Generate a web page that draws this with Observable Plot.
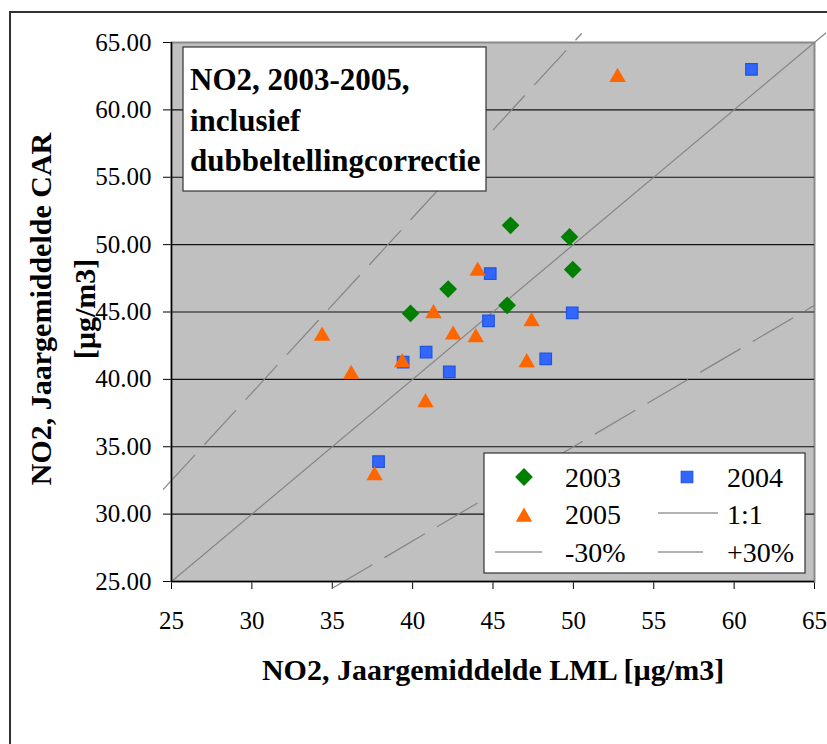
<!DOCTYPE html>
<html><head><meta charset="utf-8">
<script src="https://cdn.jsdelivr.net/npm/d3@7"></script>
<script src="https://cdn.jsdelivr.net/npm/@observablehq/plot@0.6"></script>
<style>body{margin:0;background:#fff;overflow:hidden}</style>
</head><body><div id="chart"></div>
<script>
// ---- data ----
const lml2003 = [46.09, 49.76, 49.96, 42.21, 45.88, 39.87];
const car2003 = [51.43, 50.57, 48.15, 46.70, 45.50, 44.89];

const lml2004 = [61.08, 44.83, 44.72, 49.93, 40.84, 39.41, 42.28, 48.28, 37.88];
const car2004 = [63.00, 47.85, 44.34, 44.93, 42.02, 41.28, 40.56, 41.52, 33.90];

const lml2005 = [52.75, 44.05, 41.30, 47.40, 42.52, 43.93, 34.37, 39.35, 36.18, 47.10, 40.80, 37.63];
const car2005 = [62.60, 48.22, 45.06, 44.47, 43.48, 43.28, 43.40, 41.43, 40.56, 41.43, 38.46, 33.05];

const refNames   = ["1:1", "-30%", "+30%"];
const refFactors = [1, 0.7, 1.3];
const refXStart  = [25, 35, 24.5];
const refXEnd    = [65.7, 65, 50.5];

const xTicks = [25, 30, 35, 40, 45, 50, 55, 60, 65];
const yTicks = [25, 30, 35, 40, 45, 50, 55, 60, 65];

const titleLines = ["NO2, 2003-2005,", "inclusief", "dubbeltellingcorrectie"];
const xTitle = "NO2, Jaargemiddelde LML [µg/m3]";
const yTitleLines = ["NO2, Jaargemiddelde CAR", "[µg/m3]"];

// ---- build tables ----
const pts = (xs, ys, year) => xs.map((x, i) => ({x, y: ys[i], year}));
const d03 = pts(lml2003, car2003, "2003");
const d04 = pts(lml2004, car2004, "2004");
const d05 = pts(lml2005, car2005, "2005");
const refData = refNames.flatMap((n, i) => [
  {name: n, x: refXStart[i], y: refXStart[i] * refFactors[i]},
  {name: n, x: refXEnd[i], y: refXEnd[i] * refFactors[i]}
]);

const GREEN = "#008000", BLUE = "#3366ff", BLUE_EDGE = "#1f55dd", ORANGE = "#ff6600", LINEGRAY = "#858585";
const SERIF = "Times New Roman, Liberation Serif, Tinos, serif";

const chart = Plot.plot({
  width: 827, height: 744,
  marginLeft: 171, marginRight: 13, marginTop: 42, marginBottom: 163,
  style: {fontFamily: SERIF, fontSize: "25px", color: "black", background: "white", overflow: "visible"},
  x: {domain: [25, 65], ticks: xTicks, tickSize: 8, tickPadding: 22, label: null},
  y: {domain: [25, 65], ticks: yTicks, tickSize: 8, tickPadding: 12, tickFormat: d => d.toFixed(2), label: null},
  marks: [
    Plot.frame({fill: "#c0c0c0", stroke: "#8a8a8a", strokeWidth: 2}),
    Plot.ruleY(yTicks.slice(1, -1), {stroke: "#111", strokeWidth: 1.2}),
    Plot.line(refData.filter(d => d.name === "1:1"), {x: "x", y: "y", stroke: LINEGRAY, strokeWidth: 1.2}),
    Plot.line(refData.filter(d => d.name !== "1:1"), {x: "x", y: "y", z: "name", stroke: LINEGRAY, strokeWidth: 1.2, strokeDasharray: "46,15"}),
    Plot.ruleX([25], {stroke: "#000", strokeWidth: 1.5}),
    Plot.ruleY([25], {stroke: "#000", strokeWidth: 1.5}),
    Plot.dot(d03, {x: "x", y: "y", symbol: "diamond2", r: 8, fill: GREEN, stroke: "none"}),
    Plot.dot(d04, {x: "x", y: "y", symbol: "square", r: 6.5, fill: BLUE, stroke: BLUE_EDGE, strokeWidth: 1.2}),
    Plot.dot(d05, {x: "x", y: "y", symbol: "triangle", r: 6.1, dy: 2.4, fill: ORANGE, stroke: "none"})
  ]
});
document.getElementById("chart").appendChild(chart);
d3.select(chart).selectAll("text").style("font-family", SERIF);

// ---- annotations ----
const svg = d3.select(chart);
const txt = (g, t, opts) => g.append("text").text(t)
  .attr("text-anchor", opts.anchor || "start")
  .attr("fill", "black")
  .style("font-family", SERIF)
  .style("font-weight", opts.bold ? "bold" : "normal")
  .style("font-size", opts.size + "px");

svg.append("path").attr("d", "M10,744V12H827").attr("fill", "none").attr("stroke", "#333").attr("stroke-width", 2);

// title box
const tb = svg.append("g");
tb.append("rect").attr("x", 183).attr("y", 47).attr("width", 303).attr("height", 144)
  .attr("fill", "white").attr("stroke", "#333").attr("stroke-width", 1.2);
titleLines.forEach((t, i) => {
  txt(tb, t, {bold: true, size: 31}).attr("x", 190).attr("y", 90 + i * 40.5);
});

// axis titles
txt(svg, xTitle, {bold: true, size: 30, anchor: "middle"}).attr("x", 493).attr("y", 680);
[51, 95].forEach((bx, i) => {
  txt(svg, yTitleLines[i], {bold: true, size: 30, anchor: "middle"})
    .attr("transform", `translate(${bx},309) rotate(-90)`);
});

// legend
const lg = svg.append("g");
lg.append("rect").attr("x", 484).attr("y", 453).attr("width", 321).attr("height", 120)
  .attr("fill", "white").attr("stroke", "#333").attr("stroke-width", 1.2);
const sym = (type, r) => d3.symbol(type, Math.PI * r * r)();
lg.append("path").attr("d", sym(d3.symbolDiamond2, 8)).attr("transform", "translate(524,477)").attr("fill", GREEN);
lg.append("path").attr("d", sym(d3.symbolSquare, 6.5)).attr("transform", "translate(687,477)").attr("fill", BLUE).attr("stroke", BLUE_EDGE).attr("stroke-width", 1.2);
lg.append("path").attr("d", sym(d3.symbolTriangle, 6.1)).attr("transform", "translate(524,517)").attr("fill", ORANGE);
lg.append("line").attr("x1", 658).attr("x2", 718).attr("y1", 513).attr("y2", 513).attr("stroke", "#999").attr("stroke-width", 1.3);
lg.append("line").attr("x1", 495).attr("x2", 542).attr("y1", 552).attr("y2", 552).attr("stroke", "#999").attr("stroke-width", 1.3);
lg.append("line").attr("x1", 658).attr("x2", 703).attr("y1", 552).attr("y2", 552).attr("stroke", "#999").attr("stroke-width", 1.3);
const legTexts = [["2003", 565, 487], ["2004", 727, 487], ["2005", 565, 524], [refNames[0], 727, 524], [refNames[1], 565, 562], [refNames[2], 727, 562]];
legTexts.forEach(([t, x, y]) => {
  txt(lg, t, {size: 28}).attr("x", x).attr("y", y);
});
</script>
</body></html>
